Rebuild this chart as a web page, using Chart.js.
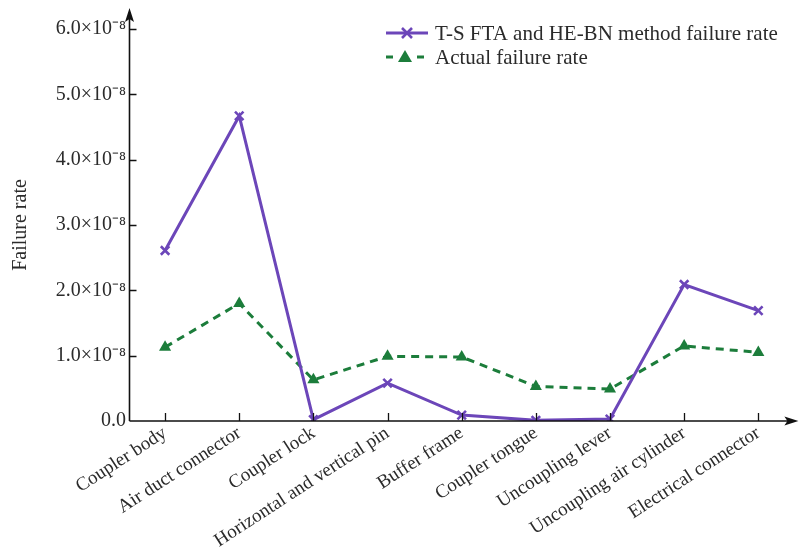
<!DOCTYPE html>
<html>
<head>
<meta charset="utf-8">
<script src="https://cdn.jsdelivr.net/npm/chart.js@4/dist/chart.umd.min.js"></script>
<style>
  html, body { margin: 0; padding: 0; background: #fff; }
  #wrap { width: 804px; height: 548px; }
</style>
</head>
<body>
<div id="wrap"><canvas id="c" width="804" height="548"></canvas></div>
<script>
// Components of the coupler system
const categories = [
  'Coupler body', 'Air duct connector', 'Coupler lock',
  'Horizontal and vertical pin', 'Buffer frame', 'Coupler tongue',
  'Uncoupling lever', 'Uncoupling air cylinder', 'Electrical connector'
];
// Failure rates from the T-S FTA and HE-BN method
const methodRate = [2.61e-8, 4.67e-8, 0.02e-8, 0.58e-8, 0.09e-8, 0.01e-8, 0.03e-8, 2.09e-8, 1.69e-8];
// Observed failure rates
const actualRate = [1.13e-8, 1.80e-8, 0.63e-8, 0.99e-8, 0.98e-8, 0.53e-8, 0.49e-8, 1.15e-8, 1.05e-8];
// Y axis ticks and their labels
const yTickValues = [0, 1e-8, 2e-8, 3e-8, 4e-8, 5e-8, 6e-8];
const yTickLabels = ['0.0', '1.0×10⁻⁸', '2.0×10⁻⁸', '3.0×10⁻⁸', '4.0×10⁻⁸', '5.0×10⁻⁸', '6.0×10⁻⁸'];
const seriesNames = ['T-S FTA and HE-BN method failure rate', 'Actual failure rate'];

const PURPLE = '#6c46b9';
const GREEN = '#1c7d3b';
const TEXT = '#2b2b2b';
const FONT = '"Liberation Serif", "Times New Roman", serif';
const FS = 21;

// Axis lines with arrow heads and inward tick marks
const axesPlugin = {
  id: 'axesArrows',
  afterDraw(chart) {
    const { ctx, chartArea: a, scales: { x, y } } = chart;
    const x0 = a.left + 1.5, y0 = a.bottom;
    ctx.save();
    ctx.strokeStyle = '#111';
    ctx.fillStyle = '#111';
    ctx.lineWidth = 1.6;
    ctx.beginPath();
    ctx.moveTo(x0, y0);
    ctx.lineTo(a.right - 2, y0);
    ctx.moveTo(x0, y0);
    ctx.lineTo(x0, a.top - 2);
    ctx.stroke();
    // arrow heads
    ctx.beginPath();
    ctx.moveTo(a.right + 3, y0);
    ctx.lineTo(a.right - 11, y0 - 4.5);
    ctx.lineTo(a.right - 8, y0);
    ctx.lineTo(a.right - 11, y0 + 4.5);
    ctx.closePath();
    ctx.fill();
    ctx.beginPath();
    ctx.moveTo(x0, a.top - 8);
    ctx.lineTo(x0 - 4.5, a.top + 6);
    ctx.lineTo(x0, a.top + 3);
    ctx.lineTo(x0 + 4.5, a.top + 6);
    ctx.closePath();
    ctx.fill();
    // inward ticks
    ctx.lineWidth = 1.3;
    ctx.beginPath();
    y.ticks.forEach(t => {
      if (t.value === 0) return;
      const py = Math.round(y.getPixelForValue(t.value)) + 0.5;
      ctx.moveTo(x0, py);
      ctx.lineTo(x0 + 7, py);
    });
    categories.forEach((c, i) => {
      const px = Math.round(x.getPixelForValue(i)) + 0.5;
      ctx.moveTo(px, y0);
      ctx.lineTo(px, y0 - 8);
    });
    ctx.stroke();
    ctx.restore();
  }
};

// Y axis title and legend block
const textPlugin = {
  id: 'titleLegend',
  afterDraw(chart) {
    const { ctx } = chart;
    ctx.save();
    ctx.fillStyle = TEXT;
    ctx.font = `${FS - 1}px ${FONT}`;
    ctx.textBaseline = 'middle';
    ctx.textAlign = 'center';
    ctx.translate(21, 225);
    ctx.rotate(-Math.PI / 2);
    ctx.fillText('Failure rate', 0, 0);
    ctx.restore();

    ctx.save();
    ctx.font = `${FS}px ${FONT}`;
    ctx.textBaseline = 'middle';
    ctx.textAlign = 'left';
    // row 1: solid purple line with a cross
    let ly = 33;
    ctx.strokeStyle = PURPLE;
    ctx.lineWidth = 3;
    ctx.beginPath();
    ctx.moveTo(386, ly); ctx.lineTo(428, ly);
    ctx.stroke();
    ctx.lineWidth = 2.6;
    ctx.beginPath();
    ctx.moveTo(402, ly - 5); ctx.lineTo(412, ly + 5);
    ctx.moveTo(412, ly - 5); ctx.lineTo(402, ly + 5);
    ctx.stroke();
    ctx.fillStyle = TEXT;
    ctx.fillText(seriesNames[0], 435, ly + 1);
    // row 2: dashed green line with a triangle
    ly = 57;
    ctx.strokeStyle = GREEN;
    ctx.lineWidth = 3;
    ctx.beginPath();
    ctx.moveTo(386, ly); ctx.lineTo(393, ly);
    ctx.moveTo(417, ly); ctx.lineTo(424, ly);
    ctx.stroke();
    ctx.fillStyle = GREEN;
    ctx.beginPath();
    ctx.moveTo(405, ly - 7); ctx.lineTo(412, ly + 5); ctx.lineTo(398, ly + 5);
    ctx.closePath();
    ctx.fill();
    ctx.fillStyle = TEXT;
    ctx.fillText(seriesNames[1], 435, ly + 1);
    ctx.restore();
  }
};

new Chart(document.getElementById('c'), {
  type: 'line',
  data: {
    labels: categories,
    datasets: [
      {
        label: seriesNames[0],
        data: methodRate,
        borderColor: PURPLE,
        backgroundColor: PURPLE,
        borderWidth: 3,
        pointStyle: 'crossRot',
        pointRadius: 6,
        pointBorderWidth: 2.6,
        pointBorderColor: PURPLE,
        tension: 0
      },
      {
        label: seriesNames[1],
        data: actualRate,
        borderColor: GREEN,
        backgroundColor: GREEN,
        borderWidth: 3,
        borderDash: [8, 6],
        pointStyle: 'triangle',
        pointRadius: 7,
        pointBorderWidth: 0,
        pointBackgroundColor: GREEN,
        tension: 0
      }
    ]
  },
  options: {
    responsive: false,
    animation: false,
    devicePixelRatio: 1,
    layout: { padding: { top: 16, right: 7, left: 0, bottom: 0 } },
    plugins: {
      legend: { display: false },
      tooltip: { enabled: false }
    },
    scales: {
      x: {
        type: 'category',
        offset: true,
        grid: { display: false, drawTicks: false },
        border: { display: false },
        ticks: {
          autoSkip: false,
          minRotation: 33,
          maxRotation: 33,
          padding: 1,
          color: TEXT,
          font: { family: FONT, size: 19 }
        },
        afterFit(s) { s.height = 127; }
      },
      y: {
        min: 0,
        max: 6.2e-8,
        grid: { display: false, drawTicks: false },
        border: { display: false },
        afterBuildTicks(s) { s.ticks = yTickValues.map(v => ({ value: v })); },
        ticks: {
          padding: 2,
          color: TEXT,
          font: { family: FONT, size: FS - 1 },
          callback(v, i) { return yTickLabels[i]; }
        },
        afterFit(s) { s.width = 128; }
      }
    }
  },
  plugins: [axesPlugin, textPlugin]
});
</script>
</body>
</html>
